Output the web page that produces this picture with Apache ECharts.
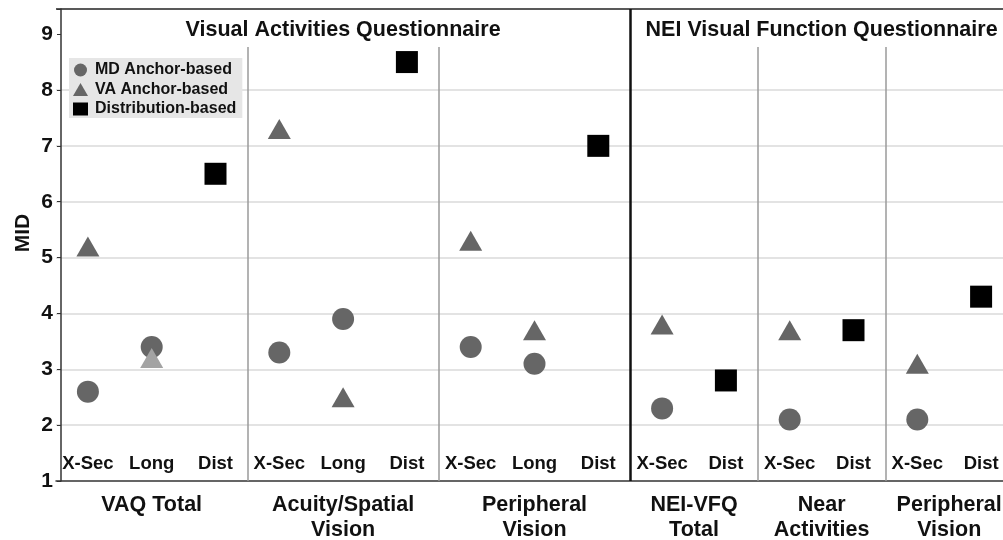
<!DOCTYPE html>
<html>
<head>
<meta charset="utf-8">
<script src="https://cdn.jsdelivr.net/npm/echarts@6/dist/echarts.min.js"></script>
<style>
html,body{margin:0;padding:0;background:#fff;}
#chart{width:1003px;height:540px;}
</style>
</head>
<body>
<div id="chart"></div>
<script>
// ---- data ----
const slotLabels = ['X-Sec','Long','Dist','X-Sec','Long','Dist','X-Sec','Long','Dist','X-Sec','Dist','X-Sec','Dist','X-Sec','Dist'];
const groupNames = ['VAQ Total','Acuity/Spatial\nVision','Peripheral\nVision','NEI-VFQ\nTotal','Near\nActivities','Peripheral\nVision'];
const groupSizes = [3,3,3,2,2,2];
const questionnaireNames = ['Visual Activities Questionnaire','NEI Visual Function Questionnaire'];
const questionnaireGroupCounts = [3,3];
const seriesNames = ['MD Anchor-based','VA Anchor-based','Distribution-based'];
const mdAnchor   = [2.6, 3.4, '-', 3.3, 3.9, '-', 3.4, 3.1, '-', 2.3, '-', 2.1, '-', 2.1, '-'];
const vaAnchor   = [5.2, 3.2, '-', 7.3, 2.5, '-', 5.3, 3.7, '-', 3.8, '-', 3.7, '-', 3.1, '-'];
const distBased  = ['-', '-', 6.5, '-', '-', 8.5, '-', '-', 7.0, '-', 2.8, '-', 3.7, '-', 4.3];
const yMin = 1, yMax = 9, yStep = 1;

// ---- derived layout helpers ----
const nSlots = slotLabels.length;
const groupStarts = [];
let acc = 0;
groupSizes.forEach(s => { groupStarts.push(acc); acc += s; });
const groupCenters = groupSizes.map((s, i) => groupStarts[i] + s / 2);
const groupLabelMap = {};
groupCenters.forEach((c, i) => { groupLabelMap[c.toFixed(2)] = groupNames[i]; });

const qLabelMap = {};
const qBoundaries = [];
let gi = 0;
questionnaireGroupCounts.forEach((cnt, qi) => {
  const start = groupStarts[gi];
  const end = (gi + cnt < groupStarts.length) ? groupStarts[gi + cnt] : nSlots;
  qLabelMap[((start + end) / 2).toFixed(2)] = questionnaireNames[qi];
  if (end < nSlots) qBoundaries.push(end);
  gi += cnt;
});
const groupBoundaries = groupStarts.slice(1).filter(b => qBoundaries.indexOf(b) < 0);

const yTop = 9.45;      // plot top
const sepTop = 8.77;    // thin separators end below titles

const font = 'Liberation Sans, Arial, Helvetica, sans-serif';
const chart = echarts.init(document.getElementById('chart'), null, {renderer: 'canvas'});

const sepLines = [];
groupBoundaries.forEach(b => sepLines.push([{coord: [b, yMin]}, {coord: [b, sepTop], lineStyle: {color: '#9a9a9a', width: 1.5, type: 'solid'}}]));
qBoundaries.forEach(b => sepLines.push([{coord: [b, yMin]}, {coord: [b, yTop], lineStyle: {color: '#111', width: 2.5, type: 'solid'}}]));

const vaData = vaAnchor.map((v, i) => i === 1 ? {value: v, itemStyle: {color: '#a3a3a3'}} : v);

chart.setOption({
  animation: false,
  backgroundColor: '#fff',
  grid: {left: 56, right: -10, top: 9, bottom: 59, outerBoundsMode: 'none', containLabel: false},
  legend: {
    orient: 'vertical', left: 69, top: 58,
    backgroundColor: '#e6e6e6', padding: [4, 6, 1, 4],
    itemWidth: 15, itemHeight: 13, itemGap: 3.5,
    data: [
      {name: seriesNames[0], icon: 'circle'},
      {name: seriesNames[1], icon: 'triangle'},
      {name: seriesNames[2], icon: 'rect'}
    ],
    textStyle: {fontFamily: font, fontWeight: 'bold', fontSize: 16, color: '#111', lineHeight: 16, padding: [0, 0, 0, 2]}
  },
  xAxis: [
    {
      type: 'category', data: slotLabels, boundaryGap: true, position: 'bottom',
      axisLine: {show: true, lineStyle: {color: '#333', width: 1.5}},
      axisTick: {show: false},
      axisLabel: {inside: true, margin: 8, interval: 0, fontFamily: font, fontWeight: 'bold', fontSize: 18.5, color: '#111'},
      splitLine: {show: false}
    },
    {
      type: 'value', min: 0, max: nSlots, interval: 0.5, position: 'bottom',
      axisLine: {show: false}, axisTick: {show: false}, splitLine: {show: false},
      axisLabel: {
        margin: 12, fontFamily: font, fontWeight: 'bold', fontSize: 21.5, color: '#111', lineHeight: 25,
        formatter: v => groupLabelMap[v.toFixed(2)] || ''
      }
    },
    {
      type: 'value', min: 0, max: nSlots, interval: 0.5, position: 'top',
      axisLine: {show: false}, axisTick: {show: false}, splitLine: {show: false},
      axisLabel: {
        inside: true, margin: 10, fontFamily: font, fontWeight: 'bold', fontSize: 21.5, color: '#111',
        formatter: v => qLabelMap[v.toFixed(2)] || ''
      }
    }
  ],
  yAxis: {
    type: 'value', min: yMin, max: yTop, interval: yStep, offset: -5,
    name: 'MID', nameLocation: 'middle', nameGap: 27, nameMoveOverlap: false,
    nameTextStyle: {fontFamily: font, fontWeight: 'bold', fontSize: 21, color: '#111', padding: [0, 0, 0, 24]},
    axisLine: {show: true, lineStyle: {color: '#333', width: 1.5}},
    axisTick: {show: true, length: 4, lineStyle: {color: '#333'}},
    axisLabel: {
      margin: 8, fontFamily: font, fontWeight: 'bold', fontSize: 21, color: '#111',
      formatter: v => (Number.isInteger(v) && v <= yMax) ? String(v) : ''
    },
    splitLine: {
      show: true, showMinLine: false, showMaxLine: true,
      lineStyle: {width: 1.5, color: ['#dadada','#dadada','#dadada','#dadada','#dadada','#dadada','#dadada','rgba(0,0,0,0)','#222']}
    }
  },
  series: [
    {
      type: 'scatter', name: '_sep', xAxisIndex: 1, yAxisIndex: 0, data: [], silent: true, z: 1,
      markLine: {silent: true, symbol: 'none', label: {show: false}, animation: false, data: sepLines}
    },
    {type: 'scatter', name: seriesNames[0], xAxisIndex: 0, data: mdAnchor, symbol: 'circle', symbolSize: 22,
     itemStyle: {color: '#666', opacity: 1}, z: 3},
    {type: 'scatter', name: seriesNames[1], xAxisIndex: 0, data: vaData, symbol: 'triangle', symbolSize: [23, 20],
     itemStyle: {color: '#666', opacity: 1}, z: 4},
    {type: 'scatter', name: seriesNames[2], xAxisIndex: 0, data: distBased, symbol: 'rect', symbolSize: 22,
     itemStyle: {color: '#000', opacity: 1}, z: 5}
  ]
});
</script>
</body>
</html>
